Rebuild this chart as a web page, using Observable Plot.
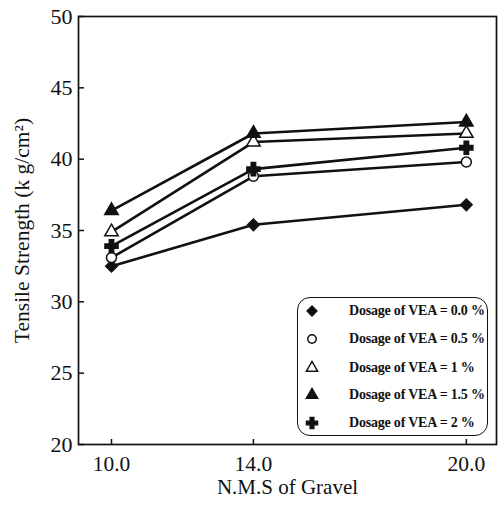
<!DOCTYPE html>
<html><head><meta charset="utf-8">
<script src="https://cdn.jsdelivr.net/npm/d3@7"></script>
<script src="https://cdn.jsdelivr.net/npm/@observablehq/plot@0.6"></script>
<style>
body{margin:0;background:#fff;}
#wrap{position:relative;width:500px;height:508px;font-family:"Liberation Serif","Times New Roman",serif;color:#111;}
#legend{position:absolute;left:297px;top:297px;width:191px;height:139px;border:1.6px solid #111;border-radius:13px;background:#fff;box-sizing:border-box;}
.item{position:absolute;left:0;width:100%;height:20px;}
.item svg{position:absolute;left:4px;top:0;}
.item span{position:absolute;left:51px;top:1px;font-size:14px;font-weight:bold;white-space:nowrap;letter-spacing:-0.2px;line-height:18px;color:#111;}
</style></head><body><div id="wrap"></div>
<script>
const nms = [10, 14, 20];
const xTicks = [10, 14, 20];
const yTicks = [20, 25, 30, 35, 40, 45, 50];
const seriesNames = [
  "Dosage of VEA = 0.0 %",
  "Dosage of VEA = 0.5 %",
  "Dosage of VEA = 1 %",
  "Dosage of VEA = 1.5 %",
  "Dosage of VEA = 2 %"
];
const vea00 = [32.5, 35.4, 36.8];
const vea05 = [33.1, 38.8, 39.8];
const vea10 = [34.9, 41.2, 41.8];
const vea15 = [36.4, 41.8, 42.6];
const vea20 = [33.9, 39.3, 40.8];
const seriesValues = [vea00, vea05, vea10, vea15, vea20];
const symbols = ["diamond2", "circle", "triangle", "triangle", "cross"];
const fills = ["#111", "white", "white", "#111", "#111"];
const radii = [5.2, 5, 5, 5, 5.5];

const rows = seriesNames.flatMap((name, i) =>
  nms.map((x, j) => ({series: name, idx: i, x, y: seriesValues[i][j]})));

const plot = Plot.plot({
  width: 500, height: 508,
  marginLeft: 78, marginRight: 4, marginTop: 16, marginBottom: 64,
  style: {fontFamily: "'Liberation Serif', 'Times New Roman', serif", color: "#111", background: "white"},
  x: {domain: [9.07, 20.85]},
  y: {domain: [20, 50]},
  marks: [
    Plot.frame({stroke: "#111", strokeWidth: 1.7}),
    Plot.axisX({ticks: xTicks, tickFormat: d3.format(".1f"), tickSize: -5, tickPadding: 16, label: null, fontSize: 21.5, strokeWidth: 1.5}),
    Plot.axisY({ticks: yTicks, tickSize: -6, tickPadding: 12, label: null, fontSize: 22, strokeWidth: 1.5}),
    Plot.line(rows, {x: "x", y: "y", z: "series", stroke: "#111", strokeWidth: 2.6}),
    ...seriesNames.map((name, i) => Plot.dot(rows.filter(d => d.idx === i), {
      x: "x", y: "y", symbol: symbols[i], r: radii[i],
      fill: fills[i], stroke: "#111", strokeWidth: 1.5
    })),
    Plot.text(["N.M.S of Gravel"], {frameAnchor: "bottom", dy: 49, fontSize: 21, fill: "#111"}),
    Plot.text(["Tensile Strength (k g/cm²)"], {frameAnchor: "left", textAnchor: "middle", rotate: -90, dx: -56, fontSize: 21.5, fill: "#111"})
  ]
});
const wrap = document.getElementById("wrap");
wrap.appendChild(plot);

// legend
const legend = document.createElement("div");
legend.id = "legend";
const symMap = {diamond2: d3.symbolDiamond2, circle: d3.symbolCircle, triangle: d3.symbolTriangle, cross: d3.symbolCross};
const rowTops = [3, 31, 60, 87, 115];
seriesNames.forEach((name, i) => {
  const item = document.createElement("div");
  item.className = "item";
  item.style.top = rowTops[i] + "px";
  const svg = d3.create("svg").attr("width", 20).attr("height", 20);
  svg.append("path")
    .attr("transform", "translate(10,10)")
    .attr("d", d3.symbol(symMap[symbols[i]], Math.PI * (radii[i] * 0.85) ** 2)())
    .attr("fill", fills[i]).attr("stroke", "#111").attr("stroke-width", 1.4);
  item.appendChild(svg.node());
  const span = document.createElement("span");
  span.textContent = name;
  item.appendChild(span);
  legend.appendChild(item);
});
wrap.appendChild(legend);
</script>
</body></html>
